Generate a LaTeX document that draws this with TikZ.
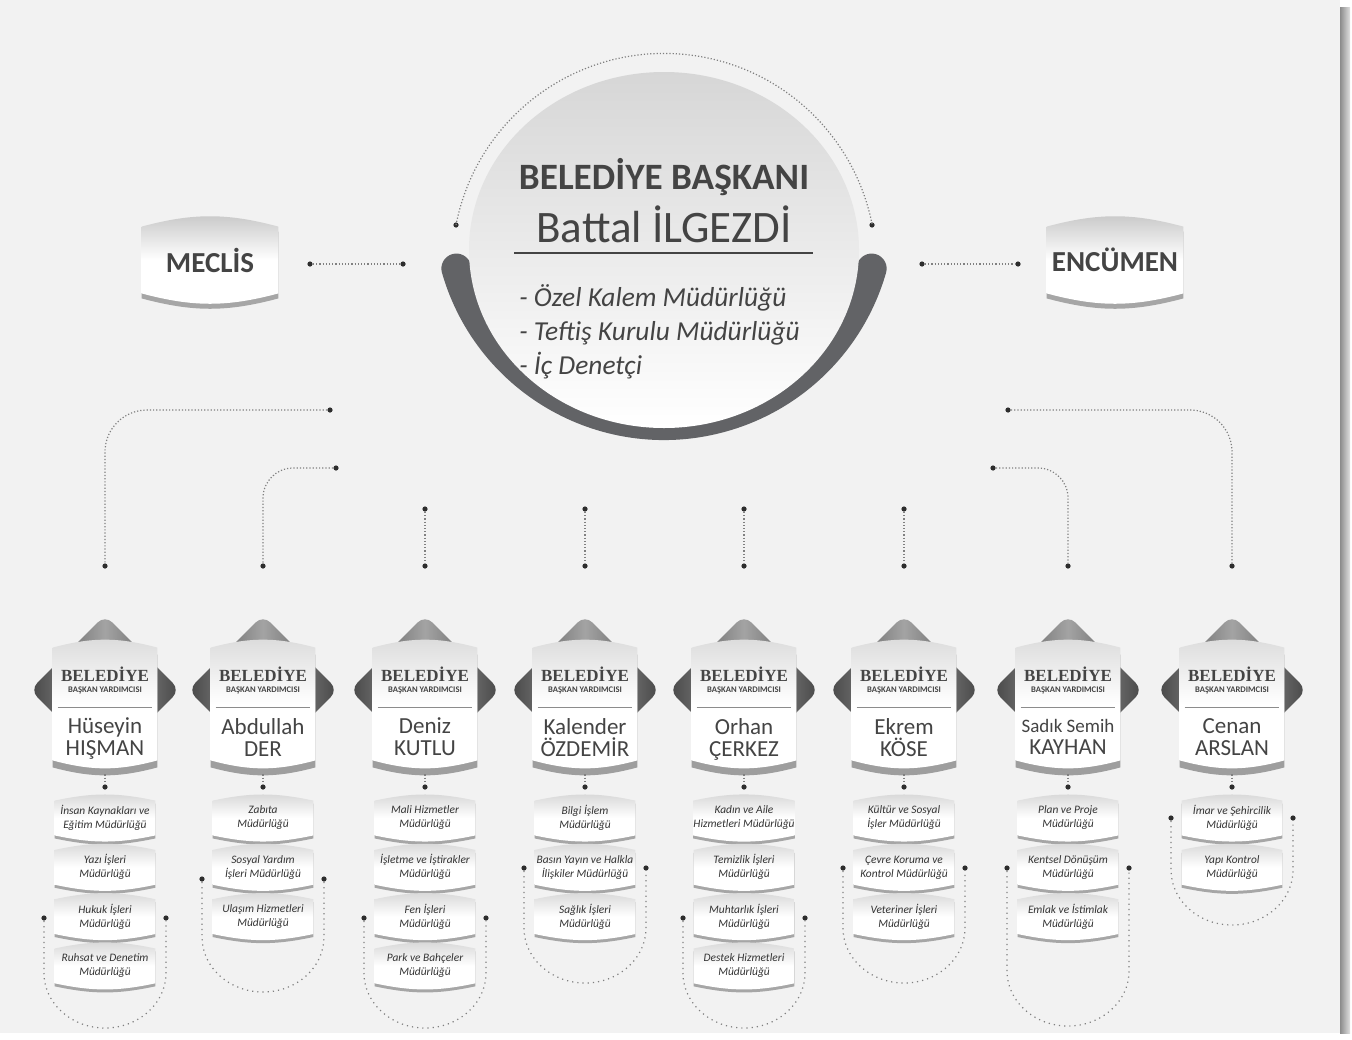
\documentclass[tikz,border=0pt]{standalone}
\usepackage{fontspec}
\setmainfont{Carlito}
\newfontfamily\headserif{Liberation Serif}
\usetikzlibrary{
positioning,
backgrounds,
shapes.geometric
}
\definecolor{ink}{RGB}{68,68,68}
\definecolor{pagegray}{RGB}{242,242,242}
\definecolor{dotgray}{RGB}{45,45,45}
\definecolor{ringgray}{RGB}{98,99,102}

\begin{document}
\begin{tikzpicture}[x=0.5pt,y=0.5pt,
    mtitle/.style={anchor=base, inner sep=0pt, text=ink, font=\fontsize{18.6}{21}\selectfont\bfseries},
    mayor/.style={anchor=base, inner sep=0pt, text=ink, font=\fontsize{22.5}{26}\selectfont},
    office/.style={inner sep=0pt, text=ink, align=left, font=\fontsize{13.7}{17}\selectfont\itshape},
    council/.style={minimum width=68pt, minimum height=33pt, inner sep=0pt, text=ink, font=\fontsize{14.5}{16}\selectfont\bfseries},
    vpcard/.style={minimum width=52pt, minimum height=56pt, inner sep=0pt},
    vphead/.style={anchor=base, inner sep=0pt, text=ink, font=\headserif\fontsize{8.5}{9}\selectfont\bfseries},
    vpsub/.style={anchor=base, inner sep=0pt, text=ink, font=\fontsize{4.3}{5}\selectfont\bfseries},
    vpname/.style={align=center, inner sep=0pt, text=ink, font=\fontsize{11.5}{11}\selectfont,
      execute at begin node=\vphantom{Ül}, execute at end node=\vphantom{Şg}},
    unit/.style={minimum width=50pt, minimum height=17pt, inner sep=0pt, align=center, text=black!80, font=\fontsize{5.7}{7}\selectfont\itshape},
    knot/.style={circle, fill=dotgray, inner sep=0pt, minimum size=2.6pt},
    link/.style={densely dotted, line width=0.6pt, draw=black!50},
    bracketline/.style={dotted, line width=0.6pt, draw=black!50}
  ]
  \useasboundingbox (0,0) rectangle (1352,-1039);

  \node[mtitle] (baskan) at (664,-189) {BELEDİYE BAŞKANI};
  \node[mayor] (isim) at (664,-242) {Battal İLGEZDİ};
  \draw[ink, line width=0.6pt] (514,-253) -- (813,-253);
  \node[office, anchor=west] (birim) at (519,-332) {- Özel Kalem Müdürlüğü\\- Teftiş Kurulu Müdürlüğü\\- İç Denetçi};
  \node[knot] (arcl) at (456,-225) {};
  \node[knot] (arcr) at (872,-225) {};
  \draw[link] (arcl.center) arc[start angle=169, end angle=11, radius=212];

  \node[council] (meclis) at (210,-260) {MECLİS};
  \node[council] (encumen) at (1115,-260) {ENCÜMEN};
  \node[knot] (mc1) at (310,-264) {};
  \node[knot] (mc2) at (403,-264) {};
  \draw[link] (mc1) -- (mc2);
  \node[knot] (ec1) at (922,-264) {};
  \node[knot] (ec2) at (1018,-264) {};
  \draw[link] (ec1) -- (ec2);

  \node[knot] (t1a) at (330,-410) {};
  \node[knot] (t1b) at (105,-566) {};
  \draw[link, rounded corners=21pt] (t1a) -| (t1b);
  \node[knot] (t2a) at (336,-468) {};
  \node[knot] (t2b) at (263,-566) {};
  \draw[link, rounded corners=15pt] (t2a) -| (t2b);
  \node[knot] (t3a) at (425,-509) {};
  \node[knot] (t3b) at (425,-566) {};
  \draw[link] (t3a) -- (t3b);
  \node[knot] (t4a) at (585,-509) {};
  \node[knot] (t4b) at (585,-566) {};
  \draw[link] (t4a) -- (t4b);
  \node[knot] (t5a) at (744,-509) {};
  \node[knot] (t5b) at (744,-566) {};
  \draw[link] (t5a) -- (t5b);
  \node[knot] (t6a) at (904,-509) {};
  \node[knot] (t6b) at (904,-566) {};
  \draw[link] (t6a) -- (t6b);
  \node[knot] (t7a) at (993,-468) {};
  \node[knot] (t7b) at (1068,-566) {};
  \draw[link, rounded corners=15pt] (t7a) -| (t7b);
  \node[knot] (t8a) at (1008,-410) {};
  \node[knot] (t8b) at (1232,-566) {};
  \draw[link, rounded corners=21pt] (t8a) -| (t8b);

  \node[vpcard] (v1) at (105,-704) {};
  \node[vphead] (h1) at (105,-681) {BELEDİYE};
  \node[vpsub] (s1) at (105,-692) {BAŞKAN YARDIMCISI};
  \node[vpname] (n1) at (105,-739) {Hüseyin\\HIŞMAN};
  \node[vpcard] (v2) at (263,-704) {};
  \node[vphead] (h2) at (263,-681) {BELEDİYE};
  \node[vpsub] (s2) at (263,-692) {BAŞKAN YARDIMCISI};
  \node[vpname] (n2) at (263,-739) {Abdullah\\DER};
  \node[vpcard] (v3) at (425,-704) {};
  \node[vphead] (h3) at (425,-681) {BELEDİYE};
  \node[vpsub] (s3) at (425,-692) {BAŞKAN YARDIMCISI};
  \node[vpname] (n3) at (425,-739) {Deniz\\KUTLU};
  \node[vpcard] (v4) at (585,-704) {};
  \node[vphead] (h4) at (585,-681) {BELEDİYE};
  \node[vpsub] (s4) at (585,-692) {BAŞKAN YARDIMCISI};
  \node[vpname] (n4) at (585,-739) {Kalender\\ÖZDEMİR};
  \node[vpcard] (v5) at (744,-704) {};
  \node[vphead] (h5) at (744,-681) {BELEDİYE};
  \node[vpsub] (s5) at (744,-692) {BAŞKAN YARDIMCISI};
  \node[vpname] (n5) at (744,-739) {Orhan\\ÇERKEZ};
  \node[vpcard] (v6) at (904,-704) {};
  \node[vphead] (h6) at (904,-681) {BELEDİYE};
  \node[vpsub] (s6) at (904,-692) {BAŞKAN YARDIMCISI};
  \node[vpname] (n6) at (904,-739) {Ekrem\\KÖSE};
  \node[vpcard] (v7) at (1068,-704) {};
  \node[vphead] (h7) at (1068,-681) {BELEDİYE};
  \node[vpsub] (s7) at (1068,-692) {BAŞKAN YARDIMCISI};
  \node[vpname] (n7) at (1068,-739) {{\fontsize{9.5}{11}\selectfont Sadık Semih}\\KAYHAN};
  \node[vpcard] (v8) at (1232,-704) {};
  \node[vphead] (h8) at (1232,-681) {BELEDİYE};
  \node[vpsub] (s8) at (1232,-692) {BAŞKAN YARDIMCISI};
  \node[vpname] (n8) at (1232,-739) {Cenan\\ARSLAN};

  \node[knot] (u1) at (105,-787) {};
  \draw[link] ([yshift=-7pt]v1.south) -- (u1);
  \node[knot] (u2) at (263,-787) {};
  \draw[link] ([yshift=-7pt]v2.south) -- (u2);
  \node[knot] (u3) at (425,-787) {};
  \draw[link] ([yshift=-7pt]v3.south) -- (u3);
  \node[knot] (u4) at (585,-787) {};
  \draw[link] ([yshift=-7pt]v4.south) -- (u4);
  \node[knot] (u5) at (744,-787) {};
  \draw[link] ([yshift=-7pt]v5.south) -- (u5);
  \node[knot] (u6) at (904,-787) {};
  \draw[link] ([yshift=-7pt]v6.south) -- (u6);
  \node[knot] (u7) at (1068,-787) {};
  \draw[link] ([yshift=-7pt]v7.south) -- (u7);
  \node[knot] (u8) at (1232,-787) {};
  \draw[link] ([yshift=-7pt]v8.south) -- (u8);

  \node[unit] (m11) at (105,-818) {İnsan Kaynakları ve\\Eğitim Müdürlüğü};
  \node[unit, below=7.25pt of m11] (m12) {Yazı İşleri\\Müdürlüğü};
  \node[unit, below=7.25pt of m12] (m13) {Hukuk İşleri\\Müdürlüğü};
  \node[unit, below=7.25pt of m13] (m14) {Ruhsat ve Denetim\\Müdürlüğü};
  \node[unit] (m21) at (263,-818) {Zabıta\\Müdürlüğü};
  \node[unit, below=7.25pt of m21] (m22) {Sosyal Yardım\\İşleri Müdürlüğü};
  \node[unit, below=7.25pt of m22] (m23) {Ulaşım Hizmetleri\\Müdürlüğü};
  \node[unit] (m31) at (425,-818) {Mali Hizmetler\\Müdürlüğü};
  \node[unit, below=7.25pt of m31] (m32) {İşletme ve İştirakler\\Müdürlüğü};
  \node[unit, below=7.25pt of m32] (m33) {Fen İşleri\\Müdürlüğü};
  \node[unit, below=7.25pt of m33] (m34) {Park ve Bahçeler\\Müdürlüğü};
  \node[unit] (m41) at (585,-818) {Bilgi İşlem\\Müdürlüğü};
  \node[unit, below=7.25pt of m41] (m42) {Basın Yayın ve Halkla\\İlişkiler Müdürlüğü};
  \node[unit, below=7.25pt of m42] (m43) {Sağlık İşleri\\Müdürlüğü};
  \node[unit] (m51) at (744,-818) {Kadın ve Aile\\Hizmetleri Müdürlüğü};
  \node[unit, below=7.25pt of m51] (m52) {Temizlik İşleri\\Müdürlüğü};
  \node[unit, below=7.25pt of m52] (m53) {Muhtarlık İşleri\\Müdürlüğü};
  \node[unit, below=7.25pt of m53] (m54) {Destek Hizmetleri\\Müdürlüğü};
  \node[unit] (m61) at (904,-818) {Kültür ve Sosyal\\İşler Müdürlüğü};
  \node[unit, below=7.25pt of m61] (m62) {Çevre Koruma ve\\Kontrol Müdürlüğü};
  \node[unit, below=7.25pt of m62] (m63) {Veteriner İşleri\\Müdürlüğü};
  \node[unit] (m71) at (1068,-818) {Plan ve Proje\\Müdürlüğü};
  \node[unit, below=7.25pt of m71] (m72) {Kentsel Dönüşüm\\Müdürlüğü};
  \node[unit, below=7.25pt of m72] (m73) {Emlak ve İstimlak\\Müdürlüğü};
  \node[unit] (m81) at (1232,-818) {İmar ve Şehircilik\\Müdürlüğü};
  \node[unit, below=7.25pt of m81] (m82) {Yapı Kontrol\\Müdürlüğü};

  \node[knot] (b1l) at (44,-918) {};
  \node[knot] (b1r) at (166,-918) {};
  \draw[bracketline] (b1l) -- ++(0,-55) arc[start angle=180, end angle=360, x radius=61, y radius=55] -- (b1r);
  \node[knot] (b2l) at (202,-879) {};
  \node[knot] (b2r) at (324,-879) {};
  \draw[bracketline] (b2l) -- ++(0,-58) arc[start angle=180, end angle=360, x radius=61, y radius=55] -- (b2r);
  \node[knot] (b3l) at (364,-918) {};
  \node[knot] (b3r) at (486,-918) {};
  \draw[bracketline] (b3l) -- ++(0,-55) arc[start angle=180, end angle=360, x radius=61, y radius=55] -- (b3r);
  \node[knot] (b4l) at (524,-868) {};
  \node[knot] (b4r) at (646,-868) {};
  \draw[bracketline] (b4l) -- ++(0,-60) arc[start angle=180, end angle=360, x radius=61, y radius=55] -- (b4r);
  \node[knot] (b5l) at (683,-918) {};
  \node[knot] (b5r) at (805,-918) {};
  \draw[bracketline] (b5l) -- ++(0,-55) arc[start angle=180, end angle=360, x radius=61, y radius=55] -- (b5r);
  \node[knot] (b6l) at (843,-868) {};
  \node[knot] (b6r) at (965,-868) {};
  \draw[bracketline] (b6l) -- ++(0,-60) arc[start angle=180, end angle=360, x radius=61, y radius=55] -- (b6r);
  \node[knot] (b7l) at (1007,-868) {};
  \node[knot] (b7r) at (1129,-868) {};
  \draw[bracketline] (b7l) -- ++(0,-103) arc[start angle=180, end angle=360, x radius=61, y radius=55] -- (b7r);
  \node[knot] (b8l) at (1171,-818) {};
  \node[knot] (b8r) at (1293,-818) {};
  \draw[bracketline] (b8l) -- ++(0,-52) arc[start angle=180, end angle=360, x radius=61, y radius=55] -- (b8r);

  \begin{scope}[on background layer]
    \fill[white] (0,0) rectangle (1352,-1039);
    \fill[pagegray] (0,0) rectangle (1340,-1033);
    \shade[left color=black!45, right color=black!12] (1340,-7) rectangle (1350,-1033);
    \draw[ringgray, line width=15pt, line cap=round] (664,-209) ++(196:216) arc[start angle=196, end angle=344, radius=216];
    \shade[top color=black!16, bottom color=white] (664,-250) ellipse[x radius=195, y radius=178];
    \foreach \n in {meclis,encumen}{
      \fill[black!35, transform canvas={yshift=-2.5pt}] (\n.north west) to[bend left=15] (\n.north east) -- (\n.south east) to[bend left=15] (\n.south west) -- cycle;
      \shade[top color=black!22, bottom color=white, middle color=white] (\n.north west) to[bend left=15] (\n.north east) -- (\n.south east) to[bend left=15] (\n.south west) -- cycle;
    }
    \foreach \n in {v1,v2,v3,v4,v5,v6,v7,v8}{
      \node[diamond, minimum width=75pt, minimum height=75pt, inner sep=0pt, rounded corners=5pt, left color=black!72, right color=black!72, middle color=black!36] at ([yshift=7pt]\n.center) {};
      \fill[black!38, transform canvas={yshift=-3.5pt}] (\n.north west) to[bend left=15] (\n.north east) -- (\n.south east) to[bend left=15] (\n.south west) -- cycle;
      \shade[top color=black!14, bottom color=white, middle color=white] (\n.north west) to[bend left=15] (\n.north east) -- (\n.south east) to[bend left=15] (\n.south west) -- cycle;
      \draw[black!45, line width=0.5pt] ([xshift=2.5pt,yshift=-1.5pt]\n.west) -- ([xshift=-2.5pt,yshift=-1.5pt]\n.east);
    }
    \foreach \n in {m11,m12,m13,m14,m21,m22,m23,m31,m32,m33,m34,m41,m42,m43,m51,m52,m53,m54,m61,m62,m63,m71,m72,m73,m81,m82}{
      \fill[black!35, transform canvas={yshift=-1.5pt}] (\n.north west) to[bend left=12] (\n.north east) -- (\n.south east) to[bend left=12] (\n.south west) -- cycle;
      \shade[top color=black!16, bottom color=white, middle color=white] (\n.north west) to[bend left=12] (\n.north east) -- (\n.south east) to[bend left=12] (\n.south west) -- cycle;
    }
  \end{scope}
\end{tikzpicture}
\end{document}
